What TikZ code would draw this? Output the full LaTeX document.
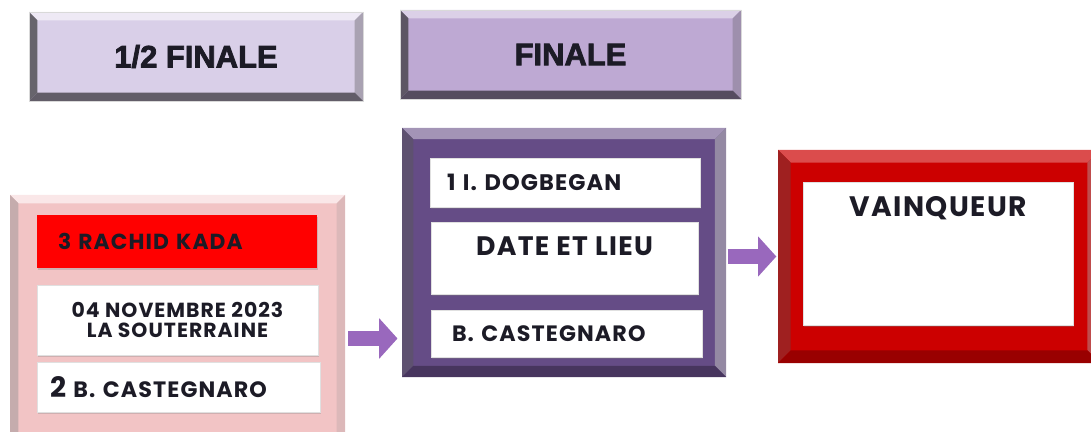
\documentclass[tikz,border=0pt]{standalone}
\usepackage{fontspec}
\setmainfont{Poppins}[LetterSpace=5]
\newfontfamily\headfont{Liberation Sans}[BoldFeatures={FakeBold=2.5}]
\usetikzlibrary{calc,shadows,arrows.meta}

\definecolor{lavlight}{HTML}{D9CFE8}
\definecolor{lavmid}{HTML}{BEA9D3}
\definecolor{pinkbox}{HTML}{F2C4C5}
\definecolor{purplebox}{HTML}{654C86}
\definecolor{redbox}{HTML}{CC0000}
\definecolor{arrowcol}{HTML}{9968BD}
\definecolor{ink}{HTML}{1C1B26}
\def\px{0.025cm}

\tikzset{
  panel/.style={rectangle, inner sep=0pt, draw=none, text=ink},
  % bevel: light colour, dark colour, width
  bevel/.style n args={3}{path picture={
    \fill[#1] (path picture bounding box.north west) -- (path picture bounding box.north east)
      -- ([xshift=-#3,yshift=-#3]path picture bounding box.north east)
      -- ([xshift=#3,yshift=-#3]path picture bounding box.north west) -- cycle;
    \fill[#1!55!#2] (path picture bounding box.north west) -- (path picture bounding box.south west)
      -- ([xshift=#3,yshift=#3]path picture bounding box.south west)
      -- ([xshift=#3,yshift=-#3]path picture bounding box.north west) -- cycle;
    \fill[#2!80!#1] (path picture bounding box.north east) -- (path picture bounding box.south east)
      -- ([xshift=-#3,yshift=#3]path picture bounding box.south east)
      -- ([xshift=-#3,yshift=-#3]path picture bounding box.north east) -- cycle;
    \fill[#2] (path picture bounding box.south west) -- (path picture bounding box.south east)
      -- ([xshift=-#3,yshift=#3]path picture bounding box.south east)
      -- ([xshift=#3,yshift=#3]path picture bounding box.south west) -- cycle;
  }},
  header/.style={panel, draw=black!15, minimum height=89*\px,
    font=\headfont\bfseries\fontsize{22}{24}\selectfont},
  slot/.style={panel, fill=white, draw=black!12, drop shadow={shadow xshift=1pt, shadow yshift=-1.5pt, opacity=0.3}},
  fatarrow/.style={draw=arrowcol, line width=10pt, -{Triangle[width=28pt,length=13pt]}}
}

\begin{document}
\begin{tikzpicture}[x=0.025cm,y=-0.025cm]
  \clip (0,0) rectangle (1091,432);

  %%% headers
  \node[header, fill=lavlight, bevel={white!55!lavlight}{lavlight!45!black}{6pt},
    minimum width=334*\px] (demi) at (196,56.5) {1/2 FINALE};
  \node[header, fill=lavmid, bevel={white!45!lavmid}{lavmid!45!black}{6pt},
    minimum width=341*\px] (finale) at (570.5,54.5) {FINALE};

  %%% demi-finale
  \node[panel, fill=pinkbox, bevel={white!60!pinkbox}{pinkbox!80!black}{6pt},
    minimum width=335*\px, minimum height=250*\px] (pink) at (177.5,320) {};
  \node[panel, fill=red, drop shadow={shadow xshift=1pt, shadow yshift=-1.5pt, opacity=0.3},
    minimum height=53*\px, text width=238*\px, inner xsep=21*\px, align=left,
    font=\bfseries\fontsize{15.5}{17}\selectfont] (kada) at (177,241.5) {3 RACHID KADA};
  \node[slot, minimum width=281*\px, minimum height=70*\px, align=center,
    font=\bfseries\fontsize{14.5}{14}\selectfont] (dateA) at (177.5,320)
    {04 NOVEMBRE 2023\\LA SOUTERRAINE};
  \node[slot, minimum height=50*\px, text width=257*\px, inner xsep=13*\px, align=left,
    font=\bfseries\fontsize{15.8}{17}\selectfont] (casA) at (178.5,387)
    {{\fontsize{20}{20}\selectfont 2} B. CASTEGNARO};

  %%% finale
  \node[panel, fill=purplebox, bevel={purplebox!60!white}{purplebox!70!black}{8pt},
    minimum width=324*\px, minimum height=249*\px] (purple) at (564,252.5) {};
  \node[slot, minimum height=49*\px, text width=236*\px, inner xsep=17*\px, align=left,
    font=\bfseries\fontsize{16}{17}\selectfont] (dog) at (565,182.5) {1 I. DOGBEGAN};
  \node[slot, minimum width=267*\px, minimum height=72*\px,
    label={[anchor=north, inner sep=0pt, yshift=-15*\px, text=ink, font=\bfseries\fontsize{19}{19}\selectfont]north:DATE ET LIEU}]
    (dateB) at (564.5,258) {};
  \node[slot, minimum height=47*\px, text width=229*\px, inner xsep=21*\px, align=left,
    font=\bfseries\fontsize{15.8}{17}\selectfont] (casB) at (566.5,333.5) {B. CASTEGNARO};

  %%% vainqueur
  \node[panel, fill=redbox, bevel={redbox!70!white}{redbox!75!black}{9pt},
    minimum width=322*\px, minimum height=213*\px] (winbox) at (939,256.5) {};
  \node[slot, minimum width=270*\px, minimum height=143*\px,
    label={[anchor=north, inner sep=0pt, yshift=-14*\px, text=ink, font=\bfseries\fontsize{20}{20}\selectfont]north:VAINQUEUR}]
    (win) at (938,253.5) {};

  %%% arrows
  \coordinate (in1) at ($(purple.west |- casB.west)+(0,5)$);
  \draw[fatarrow, shorten <=2pt, shorten >=3pt] (pink.east |- in1) -- (in1);
  \draw[fatarrow, shorten <=1pt, shorten >=1pt] (purple.east |- winbox.west) -- (winbox.west);
\end{tikzpicture}
\end{document}
